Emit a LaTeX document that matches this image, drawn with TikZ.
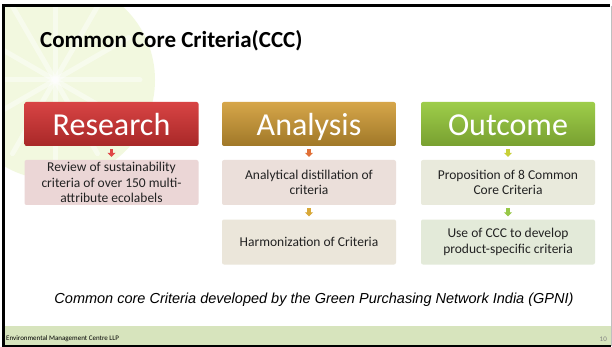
\documentclass[tikz,border=0pt]{standalone}
\usepackage{fontspec}
\setmainfont{Carlito}
\newfontfamily\capfont{Liberation Sans}
\usetikzlibrary{arrows.meta}
\definecolor{rtop}{HTML}{D84444}
\definecolor{rbot}{HTML}{A82828}
\definecolor{atop}{HTML}{D6A64A}
\definecolor{abot}{HTML}{A07828}
\definecolor{otop}{HTML}{9ECD4A}
\definecolor{obot}{HTML}{78A030}
\definecolor{rsubc}{HTML}{EBD6D6}
\definecolor{asubA}{HTML}{EBDFDA}
\definecolor{asubB}{HTML}{EBE6DA}
\definecolor{osubA}{HTML}{E9EADC}
\definecolor{osubB}{HTML}{E3EAD9}
\definecolor{rarr}{HTML}{E04848}
\definecolor{aarrA}{HTML}{E07038}
\definecolor{aarrB}{HTML}{D8A838}
\definecolor{oarrA}{HTML}{C8D038}
\definecolor{oarrB}{HTML}{98C848}
\definecolor{footc}{HTML}{D7E4BD}
\definecolor{leafc}{HTML}{D6EA98}
\definecolor{subtext}{HTML}{222222}
\tikzset{
  hdr/.style={rectangle, rounded corners=2pt, minimum width=174pt, minimum height=44pt,
    text=white, font=\fontsize{32}{36}\selectfont, inner sep=0pt, text height=23pt, text depth=0pt},
  subbox/.style={rectangle, rounded corners=2pt, minimum width=174pt, minimum height=45pt,
    align=center, font=\fontsize{13.5}{15.5}\selectfont, text=subtext, inner sep=0pt},
  blk/.style={line width=3.5pt, -{Triangle[width=8pt,length=4pt]}, shorten <=3pt, shorten >=3pt}
}
\begin{document}
\begin{tikzpicture}[x=1pt,y=-1pt]
\useasboundingbox (0,0) rectangle (612,347);
\fill[white] (0,0) rectangle (612,347);
% faint leaf in the background
\begin{scope}
\clip (4,7) rectangle (611,326);
\fill[leafc, opacity=0.3] (55,80) circle (100);
\foreach \a in {0,30,...,330}
  \draw[white, line width=5pt, opacity=0.45, line cap=round] (55,80) -- ++(\a:85);
\end{scope}
% footer band and frame
\fill[footc] (4,326) rectangle (611,345);
\draw[black, line width=3pt] (3,347) -- (3,6) -- (610,6);
\draw[black, line width=2pt] (3,346) -- (611,346);
\draw[black!25, line width=1pt] (611,6) -- (611,346);
% title
\node[anchor=base west, font=\fontsize{23}{27}\selectfont\bfseries, inner sep=0pt] (title) at (40,48) {Common Core Criteria(CCC)};
% headers
\node[hdr, top color=rtop, bottom color=rbot] (rh) at (111.5,124) {Research};
\node[hdr, top color=atop, bottom color=abot] (ah) at (309,124) {Analysis};
\node[hdr, top color=otop, bottom color=obot] (oh) at (508,124) {Outcome};
% sub boxes
\node[subbox, fill=rsubc] (rs) at (111.5,182.5) {Review of sustainability\\criteria of over 150 multi-\\attribute ecolabels};
\node[subbox, fill=asubA] (as1) at (309,182.5) {Analytical distillation of\\criteria};
\node[subbox, fill=asubB] (as2) at (309,242) {Harmonization of Criteria};
\node[subbox, fill=osubA] (os1) at (508,182.5) {Proposition of 8 Common\\Core Criteria};
\node[subbox, fill=osubB] (os2) at (508,242) {Use of CCC to develop\\product-specific criteria};
% arrows
\draw[blk, rarr] (rh) -- (rs);
\draw[blk, aarrA] (ah) -- (as1);
\draw[blk, aarrB] (as1) -- (as2);
\draw[blk, oarrA] (oh) -- (os1);
\draw[blk, oarrB] (os1) -- (os2);
% caption
\node[font=\capfont\itshape\fontsize{14.5}{17}\selectfont, inner sep=0pt] (cap) at (314,300) {Common core Criteria developed by the Green Purchasing Network India (GPNI)};
% footer texts
\node[anchor=west, font=\fontsize{7}{8}\selectfont, inner sep=0pt] (foot) at (6,339) {Environmental Management Centre LLP};
\node[anchor=east, font=\fontsize{7}{8}\selectfont, text=gray, inner sep=0pt] (pg) at (607,339) {10};
\end{tikzpicture}
\end{document}
